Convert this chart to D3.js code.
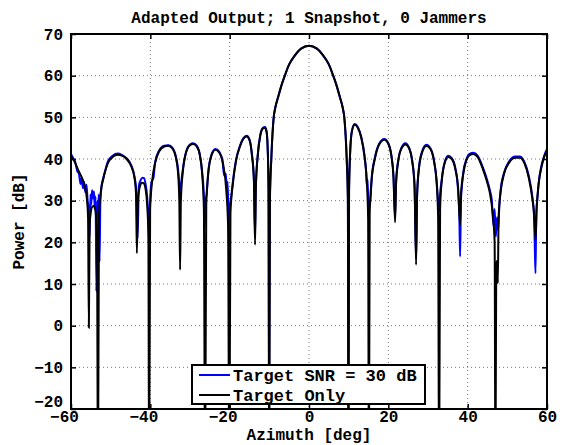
<!DOCTYPE html>
<html>
<head>
<meta charset="utf-8">
<script src="https://cdn.jsdelivr.net/npm/d3@7/dist/d3.min.js"></script>
<style>
  body { margin: 0; background: #fff; }
  text { font-family: "Liberation Mono", "Courier New", monospace; font-weight: bold; fill: #000; }
</style>
</head>
<body>
<script>
// Target Only (black) - azimuth [deg] / power [dB]
var onlyAz = [-60, -59, -58.2, -57.3, -56.5, -56, -55.7, -55.5, -55.3, -55, -54.6, -54.3, -54, -53.7, -53.45, -53.2, -52.95, -52.5, -51.9, -50.7, -49.5, -48.2, -47.2, -46, -44.8, -44, -43.6, -43.4, -43.1, -42.6, -42.1, -41.7, -41.2, -40.8, -40.5, -40.3, -40.05, -39.5, -38.8, -37.8, -36.5, -35.5, -34.5, -33.6, -33, -32.7, -32.5, -32.3, -31.8, -31, -30, -29.2, -28.3, -27.5, -26.9, -26.5, -26.2, -25.9, -25.4, -24.6, -23.6, -22.6, -21.6, -20.9, -20.4, -20.1, -19.8, -19.2, -18.4, -17.4, -16.4, -15.7, -15, -14.4, -13.9, -13.6, -13.4, -12.9, -12.3, -11.6, -11.1, -10.7, -10.4, -10.2, -10.05, -9.85, -9.5, -8.9, -8.5, -7.8, -7, -6.1, -5, -3.6, -2, 0, 2, 3.6, 5, 6.1, 7, 7.8, 8.5, 8.9, 9.5, 9.8, 9.95, 10.1, 10.4, 10.8, 11.5, 12.3, 13.2, 14, 14.6, 14.9, 15.1, 15.3, 15.8, 16.6, 17.6, 19, 20, 20.8, 21.3, 21.7, 21.95, 22.5, 23.3, 24.3, 25.2, 26, 26.6, 27, 27.25, 27.7, 28.5, 29.6, 30.6, 31.5, 32.2, 32.55, 32.8, 33.05, 33.5, 34.2, 35.1, 36, 36.9, 37.6, 38.1, 38.35, 38.9, 39.7, 40.6, 41.4, 42.5, 43.9, 44.9, 45.6, 46.3, 46.8, 47, 47.2, 47.35, 47.5, 47.6, 47.8, 48.3, 49.2, 50.5, 52, 53.2, 54.3, 55.4, 56.3, 56.8, 57.1, 57.4, 57.9, 58.6, 59.3, 60];
var onlyPow = [40.7, 39.2, 37.4, 35.6, 33.4, 30.5, 26, -0.5, 24, 27.3, 28.6, 28.7, 28.3, 26.5, 22, -40, 26, 32, 35, 39, 40.5, 41, 40.8, 40, 38.2, 35.5, 31.5, 17.4, 30.5, 33.5, 34.3, 34.2, 32.8, 29, 22, -40, 28, 35, 39, 41.8, 43, 43.2, 42.6, 40.5, 36.5, 30, 13.4, 30, 37, 41.5, 43.3, 43.6, 43, 40.8, 36, 28, -40, 29, 36.5, 40.8, 42.2, 41.5, 38.5, 33, 24, -40, 27, 34, 39.5, 43, 45, 45.4, 44.5, 41, 35, 19.4, 33, 41, 45.5, 47.3, 47.5, 46.5, 42, 32, -40, 30, 40, 50, 52.3, 54.8, 57.5, 60, 62.7, 64.8, 66.5, 67.2, 66.5, 64.8, 62.7, 60, 57.5, 54.8, 52.3, 50, 40, 30, -40, 32, 42, 46.5, 48.2, 47.5, 45, 40.5, 34, 26, -40, 27, 35, 40, 43.3, 44.6, 43.6, 40.5, 35.5, 24.8, 34, 39.5, 42.5, 43.5, 42.6, 39.5, 33.5, 14.6, 31, 37.5, 41.5, 43.1, 42.4, 39.5, 34, 26, -40, 28, 35, 39, 40.5, 40, 37.5, 33, 24.2, 32, 36.5, 39.8, 41, 41.2, 40.5, 37.4, 34.5, 31.8, 27, 20, -40, 14, 15.5, 14, 10.2, 26, 32, 36.5, 39.2, 40.3, 40.3, 39, 35.5, 30.5, 26, 20.6, 28, 34, 38, 40.5, 42];

// Target SNR = 30 dB (blue)
var snrAz = [-60, -59.5, -59, -58.4, -58, -57.6, -57.3, -57, -56.7, -56.4, -56.1, -55.8, -55.5, -55.3, -55.1, -54.9, -54.7, -54.4, -54.2, -54, -53.8, -53.6, -53.4, -53.2, -53, -52.8, -52.6, -52.3, -51.9, -51.3, -50.7, -49.5, -48.2, -47.2, -46, -44.8, -44, -43.6, -43.2, -42.9, -42.5, -42, -41.6, -41.2, -40.8, -40.5, -40.3, -40.1, -39.7, -39.2, -38.8, -37.8, -36.5, -35.5, -34.5, -33.6, -33, -32.7, -32.5, -32.3, -31.8, -31, -30, -29.2, -28.3, -27.5, -26.9, -26.5, -26.3, -26.1, -25.8, -25.4, -24.6, -23.6, -22.6, -21.8, -21.4, -21, -20.7, -20.5, -20.3, -20.15, -19.95, -19.6, -19.2, -18.4, -17.4, -16.4, -15.7, -15, -14.4, -13.9, -13.6, -13.4, -12.9, -12.3, -11.6, -11.1, -10.7, -10.4, -10.2, -10.05, -9.85, -9.5, -8.9, -8.5, -7.8, -7, -6.1, -5, -3.6, -2, 0, 2, 3.6, 5, 6.1, 7, 7.8, 8.5, 8.9, 9.5, 9.8, 9.95, 10.1, 10.4, 10.8, 11.5, 12.3, 13.2, 14, 14.4, 14.6, 14.8, 15, 15.2, 15.4, 15.8, 16.6, 17.6, 19, 20, 20.8, 21.3, 21.7, 21.95, 22.5, 23.3, 24.3, 25.2, 26, 26.6, 27, 27.25, 27.7, 28.5, 29.6, 30.6, 31.5, 32.2, 32.6, 32.8, 33, 33.5, 34.2, 35.1, 36, 36.9, 37.5, 37.9, 38.1, 38.3, 38.6, 38.9, 39.7, 40.6, 41.4, 42.5, 43.9, 44.9, 45.6, 46.1, 46.5, 46.8, 47.1, 47.4, 47.7, 48, 48.3, 49.2, 50.5, 52, 53.2, 54.3, 55.4, 56.3, 56.7, 56.9, 57.1, 57.3, 57.6, 57.9, 58.6, 59.3, 60];
var snrPow = [41.2, 40.3, 39.5, 37, 36.5, 34, 35.5, 33, 34.5, 32, 33.8, 30, 27, 21.4, 31.5, 29, 32.5, 30.5, 32.2, 28, 31, 8.2, 30, 27, 31.5, 15.4, 29.5, 33.5, 35.3, 37.5, 39.4, 40.8, 41.3, 41, 40.2, 38.5, 35.8, 33, 21, 33.5, 34.8, 35.5, 35.4, 34, 31, 26, 19.4, 28.5, 34.5, 35.5, 39.2, 42, 43.2, 43.3, 42.8, 40.8, 37.5, 34, 31, 33.5, 37.5, 41.7, 43.5, 43.8, 43.2, 41, 36.5, 31, 23.4, 30, 31.5, 36.8, 41, 42.4, 41.7, 39.5, 36, 36.5, 33, 34.5, 26, 18.9, 28, 31, 34.5, 39.8, 43.2, 45.2, 45.6, 44.7, 41.3, 35.5, 22, 33.5, 41.2, 45.7, 47.5, 47.7, 46.7, 42.3, 33, -20, 31, 40.2, 50, 52.3, 54.8, 57.5, 60, 62.7, 64.8, 66.5, 67.2, 66.5, 64.8, 62.7, 60, 57.5, 54.8, 52.3, 50, 40.2, 31, -20, 33, 42.2, 46.7, 48.4, 47.7, 45.2, 40.8, 37, 33.5, 35, 26.2, 30, 29, 35.5, 40.3, 43.5, 44.8, 43.8, 40.7, 36, 26, 34.5, 39.8, 42.7, 43.8, 42.8, 39.8, 34, 16, 31.5, 37.8, 41.8, 43.4, 42.6, 39.8, 34.5, 29, 27.4, 31, 35.3, 39.2, 40.8, 40.2, 37.8, 33.5, 26, 16.6, 30, 34, 36.8, 40, 41.3, 41.5, 40.8, 37.8, 35, 32.5, 30, 24, 28, 21.4, 26, 23, 29, 32.5, 36.8, 39.5, 40.6, 40.6, 39.3, 36, 31, 27, 20, 12.6, 27, 31, 34.3, 38.4, 40.8, 42.4];

var xTicks = [-60, -40, -20, 0, 20, 40, 60];
var yTicks = [-20, -10, 0, 10, 20, 30, 40, 50, 60, 70];
var legendLabels = ['Target SNR = 30 dB', 'Target Only'];

var W = 563, H = 445;
var mL = 71, mT = 34, pw = 476, ph = 375;

var svg = d3.select('body').append('svg').attr('width', W).attr('height', H);

var x = d3.scaleLinear().domain([-60, 60]).range([mL, mL + pw]);
var y = d3.scaleLinear().domain([-20, 70]).range([mT + ph, mT]);

svg.append('defs').append('clipPath').attr('id', 'clip')
  .append('rect').attr('x', mL).attr('y', mT).attr('width', pw).attr('height', ph);

// grid
var grid = svg.append('g').attr('stroke', '#555').attr('stroke-width', 0.8).attr('stroke-dasharray', '1,3');
grid.selectAll('.gx').data(xTicks.slice(1, -1)).enter().append('line')
  .attr('x1', function (d) { return x(d); }).attr('x2', function (d) { return x(d); })
  .attr('y1', mT).attr('y2', mT + ph);
grid.selectAll('.gy').data(yTicks.slice(1, -1)).enter().append('line')
  .attr('y1', function (d) { return y(d); }).attr('y2', function (d) { return y(d); })
  .attr('x1', mL).attr('x2', mL + pw);

// curves
var line = d3.line().curve(d3.curveMonotoneX);
var plot = svg.append('g').attr('clip-path', 'url(#clip)');
plot.append('path')
  .attr('d', line(snrAz.map(function (a, i) { return [x(a), y(snrPow[i])]; })))
  .attr('fill', 'none').attr('stroke', '#0000ff').attr('stroke-width', 2);
plot.append('path')
  .attr('d', line(onlyAz.map(function (a, i) { return [x(a), y(onlyPow[i])]; })))
  .attr('fill', 'none').attr('stroke', '#000').attr('stroke-width', 2);

// axes with inward ticks on all four sides
var tl = 5;
var bottomAx = d3.axisBottom(x).tickValues(xTicks).tickSize(-tl).tickPadding(2).tickFormat(d3.format('d'));
var topAx = d3.axisTop(x).tickValues(xTicks).tickSize(-tl).tickFormat('');
var leftAx = d3.axisLeft(y).tickValues(yTicks).tickSize(-tl).tickPadding(8).tickFormat(d3.format('d'));
var rightAx = d3.axisRight(y).tickValues(yTicks).tickSize(-tl).tickFormat('');

function styleAxis(g) {
  g.select('.domain').remove();
  g.selectAll('line').attr('stroke', '#000').attr('stroke-width', 1.5);
  g.selectAll('text').attr('font-size', 16).attr('font-family', '"Liberation Mono", monospace').attr('font-weight', 'bold');
}
svg.append('g').attr('transform', 'translate(0,' + (mT + ph) + ')').call(bottomAx).call(styleAxis)
  .selectAll('text').attr('dx', function (d) { return d < 0 ? -7 : 0; });
svg.append('g').attr('transform', 'translate(0,' + mT + ')').call(topAx).call(styleAxis);
svg.append('g').attr('transform', 'translate(' + mL + ',0)').call(leftAx).call(styleAxis)
  .selectAll('text').attr('y', function (d) { return d === -20 ? -8 : 0; });
svg.append('g').attr('transform', 'translate(' + (mL + pw) + ',0)').call(rightAx).call(styleAxis);

svg.append('rect').attr('x', mL).attr('y', mT).attr('width', pw).attr('height', ph)
  .attr('fill', 'none').attr('stroke', '#000').attr('stroke-width', 2);

// legend
var lg = svg.append('g');
lg.append('rect').attr('x', 192).attr('y', 365).attr('width', 233).attr('height', 39)
  .attr('fill', '#fff').attr('stroke', '#000').attr('stroke-width', 2);
var legendColors = ['#0000ff', '#000'];
legendLabels.forEach(function (t, i) {
  var ly = 375 + i * 20;
  lg.append('line').attr('x1', 199).attr('x2', 230).attr('y1', ly).attr('y2', ly)
    .attr('stroke', legendColors[i]).attr('stroke-width', 2);
  lg.append('text').attr('x', 233).attr('y', ly).attr('dy', '0.35em').attr('font-size', 17).text(t);
});

// labels
svg.append('text').attr('x', mL + pw / 2).attr('y', 23).attr('text-anchor', 'middle')
  .attr('font-size', 16).text('Adapted Output; 1 Snapshot, 0 Jammers');
svg.append('text').attr('x', mL + pw / 2).attr('y', 440).attr('text-anchor', 'middle')
  .attr('font-size', 16).text('Azimuth [deg]');
svg.append('text').attr('transform', 'translate(24,' + (mT + ph / 2) + ') rotate(-90)')
  .attr('text-anchor', 'middle').attr('font-size', 16).text('Power [dB]');
</script>
</body>
</html>
